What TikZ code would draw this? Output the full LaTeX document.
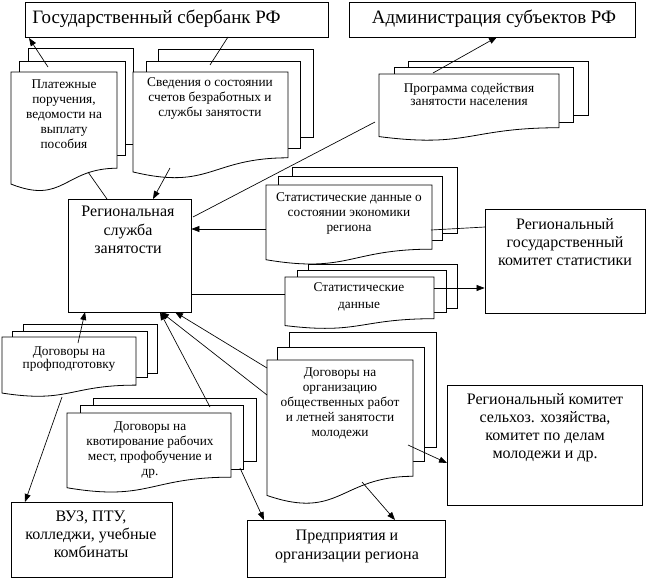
\documentclass[tikz,border=0pt]{standalone}
\usepackage{fontspec}
\setmainfont{Liberation Serif}
\usetikzlibrary{arrows.meta,fit}
\newcommand\mysheet[4]{\draw[sheet] (#1,#2) rectangle (#3,#4);}
\newcommand\mydoc[4]{\draw[sheet] (#1,#2) -- (#1+#3,#2) -- (#1+#3,#2+0.802*#4)
  .. controls (#1+0.5*#3,#2+0.802*#4) and (#1+0.5*#3,#2+1.108*#4) .. (#1,#2+0.934*#4) -- cycle;}
\begin{document}
\begin{tikzpicture}[x=0.75pt,y=-0.75pt,line width=0.6pt,
  box/.style={draw, fill=white, inner sep=0pt},
  sheet/.style={draw, fill=white},
  small/.style={align=center, inner sep=0pt, anchor=north, font=\fontsize{10}{11.25}\selectfont},
  big/.style={align=center, inner sep=0pt, anchor=north, font=\fontsize{12}{13.6}\selectfont},
  title/.style={inner sep=0pt, font=\fontsize{14.2}{16}\selectfont},
  arr/.style={link, -{Triangle[length=6pt,width=4.5pt]}},
  link/.style={line width=0.5pt}]
\useasboundingbox (0,0) rectangle (646,578);

% boxes
\node[box, fit={(25,2)(328,37)}] (sber) {};
\node[title, anchor=west] (sbertxt) at (32,19) {Государственный сбербанк РФ};
\node[box, fit={(349,2)(635,37)}] (adm) {};
\node[title] (admtxt) at (494,19) {Администрация субъектов РФ};
\node[box, fit={(68,199)(191,312)}] (central) {};
\node[big] (centraltxt) at (128,206) {Региональная\\служба\\занятости};
\node[box, fit={(485,209)(645,313)}] (komstat) {};
\node[big] (komstattxt) at (565,218) {Региональный\\государственный\\комитет статистики};
\node[box, fit={(447,385)(642,505)}] (regkom) {};
\node[big] (regkomtxt) at (545,393) {Региональный комитет\\сельхоз. хозяйства,\\комитет по делам\\молодежи и др.};
\node[box, fit={(11,502)(172,577)}] (vuz) {};
\node[big] (vuztxt) at (91,510) {ВУЗ, ПТУ,\\колледжи, учебные\\комбинаты};
\node[box, fit={(247,520)(445,577)}] (pred) {};
\node[big] (predtxt) at (347,530) {Предприятия и\\организации региона};

% document stacks
\mysheet{28}{48}{133}{144}\mysheet{19}{61}{125}{155}\mydoc{11}{72}{106}{120}
\node[small] (t1) at (64,79) {Платежные\\поручения,\\ведомости на\\выплату\\пособия};
\mysheet{158}{49}{313}{137}\mysheet{146}{61}{300}{148}\mydoc{133}{72}{155}{107}
\node[small] (t2) at (210,77) {Сведения о состоянии\\счетов безработных и\\службы занятости};
\mysheet{408}{61}{588}{115}\mysheet{394}{67}{573}{122}\mydoc{379}{74}{180}{67}
\node[small, font=\fontsize{10}{9.5}\selectfont] (t3) at (469,83) {Программа содействия\\занятости населения};
\mysheet{292}{167}{457}{233}\mysheet{278}{176}{442}{240}\mydoc{266}{185}{166}{80}
\node[small] (t4) at (349,192) {Статистические данные о\\состоянии экономики\\региона};
\mysheet{308}{264}{457}{308}\mysheet{297}{270}{446}{312}\mydoc{285}{277}{149}{52}
\node[small, font=\fontsize{10}{12.75}\selectfont] (t5) at (359,282) {Статистические\\данные};
\mysheet{23}{324}{157}{373}\mysheet{12}{331}{147}{377}\mydoc{2}{337}{134}{60}
\node[small, font=\fontsize{10}{10}\selectfont] (t6) at (69,346) {Договоры на\\профподготовку};
\mysheet{93}{398}{256}{461}\mysheet{80}{405}{243}{469}\mydoc{67}{413}{164}{80}
\node[small] (t7) at (150,421) {Договоры на\\квотирование рабочих\\мест, профобучение и\\др.};
\mysheet{289}{332}{436}{447}\mysheet{277}{347}{424}{461}\mydoc{267}{360}{146}{145}
\node[small] (t8) at (340,367) {Договоры на\\организацию\\общественных работ\\и летней занятости\\молодежи};

% connection points
\coordinate (c1a) at (48,67);   \coordinate (c1b) at (29,38);
\coordinate (c2a) at (210,65);  \coordinate (c2b) at (228,37);
\coordinate (c3a) at (433,73);  \coordinate (c3b) at (497,37);
\coordinate (c4a) at (193,217); \coordinate (c4b) at (375,122);
\coordinate (c5a) at (88,172);  \coordinate (c5b) at (107,199);
\coordinate (c6a) at (170,168); \coordinate (c6b) at (153,199);
\coordinate (c7a) at (266,229);
\coordinate (c8a) at (431,230); \coordinate (c8b) at (485,227);
\coordinate (c9b) at (285,294);
\coordinate (c10a) at (434,288);
\coordinate (c11a) at (78,343); \coordinate (c11b) at (85,312);
\coordinate (c12a) at (62,397); \coordinate (c12b) at (25,502);
\coordinate (c13a) at (210,407); \coordinate (c13b) at (160,312);
\coordinate (c14a) at (267,395); \coordinate (c14b) at (161,312);
\coordinate (c15a) at (267,368); \coordinate (c15b) at (175,312);
\coordinate (c16a) at (408,445); \coordinate (c16b) at (447,463);
\coordinate (c17a) at (362,482); \coordinate (c17b) at (395,520);
\coordinate (c18a) at (240,468); \coordinate (c18b) at (264,520);

% connectors
\draw[arr] (c1a) -- (c1b);
\draw[link] (c2a) -- (c2b);
\draw[arr] (c3a) -- (c3b);
\draw[link] (c4a) -- (c4b);
\draw[link] (c5a) -- (c5b);
\draw[arr] (c6a) -- (c6b);
\draw[arr] (c7a) -- (c7a -| central.east);
\draw[link] (c8a) -- (c8b);
\draw[link] (c9b -| central.east) -- (c9b);
\draw[arr] (c10a) -- (c10a -| komstat.west);
\draw[arr] (c11a) -- (c11b);
\draw[arr] (c12a) -- (c12b);
\draw[arr] (c13a) -- (c13b);
\draw[arr] (c14a) -- (c14b);
\draw[arr] (c15a) -- (c15b);
\draw[arr] (c16a) -- (c16b);
\draw[arr] (c17a) -- (c17b);
\draw[arr] (c18a) -- (c18b);
\end{tikzpicture}
\end{document}
